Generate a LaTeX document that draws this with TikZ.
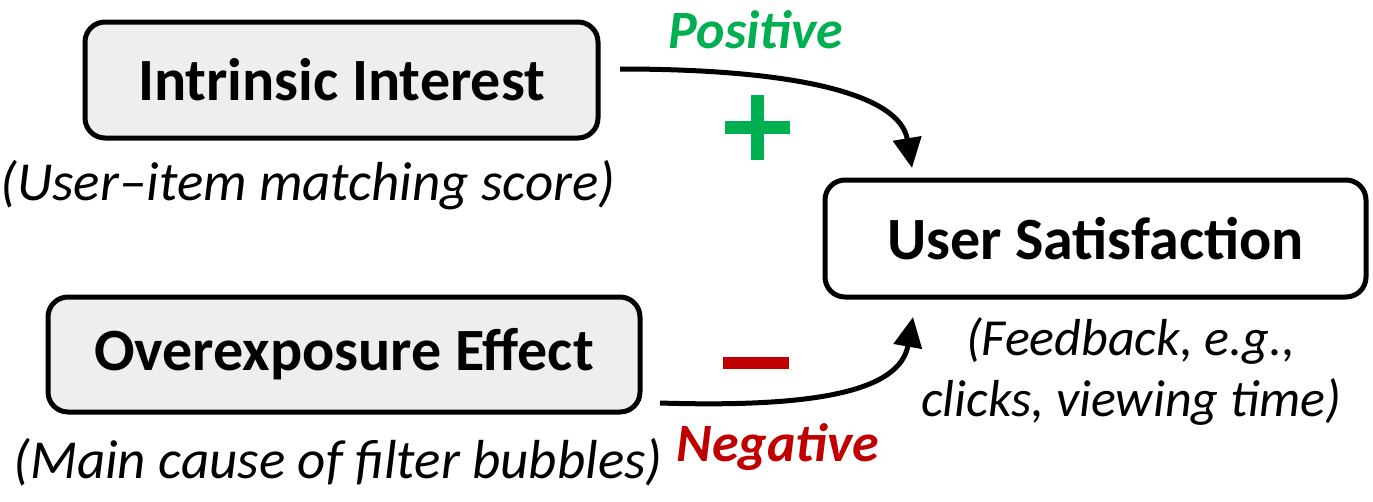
\documentclass[tikz,border=0pt]{standalone}
\usepackage{fontspec}
\setmainfont{Carlito}
\usetikzlibrary{arrows.meta}
\definecolor{posgreen}{HTML}{00B050}
\definecolor{negred}{HTML}{C00000}
\definecolor{boxgray}{HTML}{EEEEEE}
\begin{document}
\begin{tikzpicture}[x=1pt,y=-1pt,
  box/.style={draw=black,line width=5pt,rounded corners=20pt,inner sep=0pt,font=\fontsize{60}{64}\selectfont\bfseries},
  note/.style={font=\fontsize{55}{62}\selectfont\itshape,align=center,inner sep=0pt},
  sign/.style={font=\fontsize{54}{60}\selectfont\bfseries\itshape,inner sep=0pt},
  bar/.style={inner sep=0pt},
  conn/.style={line width=5pt,-{Triangle[length=30pt,width=28pt]}}]
\useasboundingbox (0,0) rectangle (1373,501);
\node[box,fill=boxgray,minimum width=513pt,minimum height=116pt] (ii) at (341.5,80) {Intrinsic Interest};
\node[box,fill=boxgray,minimum width=592pt,minimum height=115pt] (oe) at (344,354.5) {Overexposure Effect};
\node[box,fill=white,minimum width=541pt,minimum height=117pt] (us) at (1095.5,238.5) {User Satisfaction};
\node[note] (iin) at (308,185) {(User–item matching score)};
\node[note] (oen) at (338,462) {(Main cause of filter bubbles)};
\node[note,font=\fontsize{52}{61}\selectfont\itshape] (usn) at (1131,371) {(Feedback, e.g.,\\clicks, viewing time)};
\node[sign,text=posgreen] (pos) at (756,30) {Positive};
\node[sign,text=negred] (neg) at (778,447) {Negative};
\node[bar,fill=posgreen,minimum width=65pt,minimum height=13pt] (plh) at (757,127) {};
\node[bar,fill=posgreen,minimum width=13pt,minimum height=65pt] (plv) at (757,127) {};
\node[bar,fill=negred,minimum width=66pt,minimum height=12pt] (minus) at (756,363) {};
\coordinate (a1) at (620,69);
\coordinate (t1) at (912,168);
\coordinate (a2) at (660,403);
\coordinate (t2) at (913,317);
\draw[conn] (a1) .. controls (800,69) and (900,95) .. (t1);
\draw[conn] (a2) .. controls (820,408) and (900,390) .. (t2);
\end{tikzpicture}
\end{document}
